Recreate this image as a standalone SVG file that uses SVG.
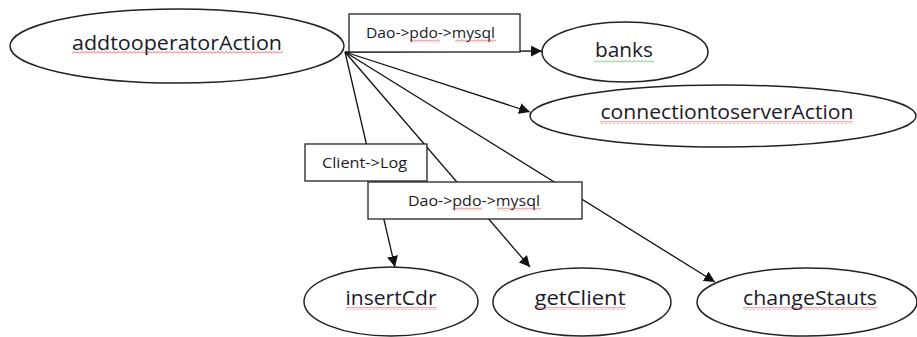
<svg xmlns="http://www.w3.org/2000/svg" width="917" height="337" viewBox="0 0 917 337">
  <defs>
    <style>
      .node { fill: #ffffff; stroke: #222222; stroke-width: 1.5; }
      .edge { fill: none; stroke: #111111; stroke-width: 1.3; marker-end: url(#arrow); }
      .tag { fill: #ffffff; stroke: #222222; stroke-width: 1.3; }
      .label { font-family: "Open Sans", "Noto Sans", sans-serif; font-size: 20.5px; fill: #1a1a2a; text-anchor: middle; }
      .small { font-family: "Open Sans", "Noto Sans", sans-serif; font-size: 14px; fill: #1a1a2a; }
    </style>
    <marker id="arrow" viewBox="0 0 10 10" refX="10" refY="5" markerWidth="11" markerHeight="11" markerUnits="userSpaceOnUse" orient="auto">
      <path d="M0,0 L10,5 L0,10 Z" fill="#111111"/>
    </marker>
    <!-- spell-check squiggles -->
    <pattern id="wavyRed" width="4" height="3" patternUnits="userSpaceOnUse">
      <path d="M0,2.5 L2,0.5 L4,2.5" fill="none" stroke="#e8302a" stroke-width="0.8"/>
    </pattern>
    <pattern id="wavyGreen" width="4" height="3" patternUnits="userSpaceOnUse">
      <path d="M0,2.5 L2,0.5 L4,2.5" fill="none" stroke="#3bb33b" stroke-width="0.8"/>
    </pattern>
  </defs>

  <rect width="917" height="337" fill="#ffffff"/>

  <!-- connectors, all leaving the right end of addtooperatorAction -->
  <g id="connectors">
    <line class="edge" x1="345" y1="52" x2="542" y2="51"/>
    <line class="edge" x1="345" y1="52" x2="530" y2="112"/>
    <line class="edge" x1="345" y1="52" x2="395" y2="267"/>
    <line class="edge" x1="345" y1="52" x2="530" y2="267"/>
    <line class="edge" x1="345" y1="52" x2="715" y2="282"/>
  </g>

  <!-- boxed edge labels -->
  <g id="edge-labels">
    <g id="label-dao-top">
      <rect class="tag" x="349" y="14" width="171" height="38"/>
      <text class="small" x="366" y="38" textLength="129" lengthAdjust="spacingAndGlyphs">Dao-&gt;pdo-&gt;mysql</text>
      <rect x="410" y="39.5" width="30" height="3" fill="url(#wavyRed)"/>
      <rect x="455" y="39.5" width="41" height="3" fill="url(#wavyRed)"/>
    </g>
    <g id="label-client-log">
      <rect class="tag" x="305" y="144" width="122" height="37"/>
      <text class="small" x="322" y="168" textLength="85" lengthAdjust="spacingAndGlyphs">Client-&gt;Log</text>
    </g>
    <g id="label-dao-bottom">
      <rect class="tag" x="368" y="182" width="214" height="37"/>
      <text class="small" x="408" y="206" textLength="132" lengthAdjust="spacingAndGlyphs">Dao-&gt;pdo-&gt;mysql</text>
      <rect x="452" y="207.5" width="30" height="3" fill="url(#wavyRed)"/>
      <rect x="497" y="207.5" width="44" height="3" fill="url(#wavyRed)"/>
    </g>
  </g>

  <g id="addtooperatorAction">
    <ellipse class="node" cx="177" cy="46" rx="167" ry="37"/>
    <text class="label" x="177" y="50" textLength="210" lengthAdjust="spacingAndGlyphs">addtooperatorAction</text>
    <rect x="72" y="51" width="211" height="3" fill="url(#wavyRed)"/>
  </g>

  <g id="banks">
    <ellipse class="node" cx="625" cy="52" rx="83" ry="30"/>
    <text class="label" x="624" y="57" textLength="58" lengthAdjust="spacingAndGlyphs">banks</text>
    <rect x="594" y="60" width="60" height="3" fill="url(#wavyGreen)"/>
  </g>

  <g id="connectiontoserverAction">
    <ellipse class="node" cx="723" cy="116" rx="193" ry="31"/>
    <text class="label" x="727" y="119" textLength="253" lengthAdjust="spacingAndGlyphs">connectiontoserverAction</text>
    <rect x="600" y="121" width="253" height="3" fill="url(#wavyRed)"/>
  </g>

  <g id="insertCdr">
    <ellipse class="node" cx="391" cy="301.5" rx="87" ry="34.5"/>
    <text class="label" x="391" y="305" textLength="91" lengthAdjust="spacingAndGlyphs">insertCdr</text>
    <rect x="346" y="307" width="91" height="3" fill="url(#wavyRed)"/>
  </g>

  <g id="getClient">
    <ellipse class="node" cx="582" cy="302" rx="89" ry="34"/>
    <text class="label" x="580" y="305" textLength="91" lengthAdjust="spacingAndGlyphs">getClient</text>
    <rect x="535" y="307" width="91" height="3" fill="url(#wavyRed)"/>
  </g>

  <g id="changeStauts">
    <ellipse class="node" cx="807" cy="302" rx="110" ry="34"/>
    <text class="label" x="810" y="305" textLength="134" lengthAdjust="spacingAndGlyphs">changeStauts</text>
    <rect x="743" y="307" width="134" height="3" fill="url(#wavyRed)"/>
  </g>
</svg>
